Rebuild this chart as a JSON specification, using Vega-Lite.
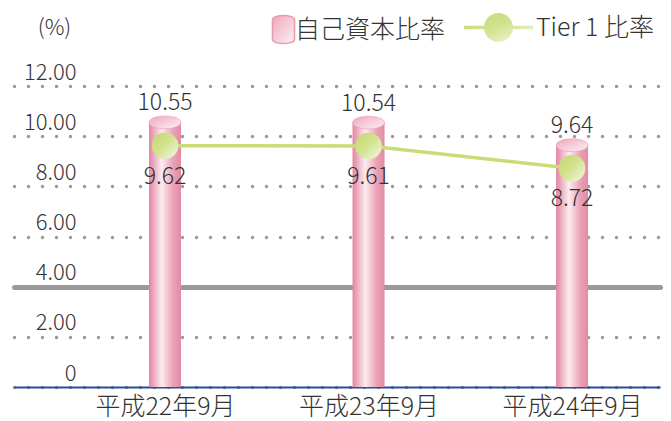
{
  "$schema": "https://vega.github.io/schema/vega-lite/v6.json",
  "autosize": "none",
  "width": 646,
  "height": 301,
  "padding": {"left": 14, "top": 86, "right": 11, "bottom": 34},
  "background": "white",
  "config": {
    "font": "Noto Sans CJK JP",
    "view": {"stroke": null},
    "text": {"font": "Noto Sans CJK JP", "color": "#333333"}
  },
  "data": {
    "values": [
      {"period": "平成22年9月", "capital": 10.55, "tier1": 9.62},
      {"period": "平成23年9月", "capital": 10.54, "tier1": 9.61},
      {"period": "平成24年9月", "capital": 9.64, "tier1": 8.72}
    ]
  },
  "encoding": {
    "x": {
      "field": "period",
      "type": "nominal",
      "sort": null,
      "scale": {"type": "point", "padding": 0.587, "align": 0.632},
      "axis": {
        "title": null,
        "ticks": false,
        "domain": true,
        "domainColor": "#2b4c9b",
        "domainWidth": 2,
        "labelFontSize": 25,
        "labelFontWeight": 300,
        "labelColor": "#333333",
        "labelPadding": 7,
        "labelAngle": 0,
        "grid": false
      }
    }
  },
  "layer": [
    {
      "mark": {
        "type": "bar",
        "size": 32,
        "fill": {
          "gradient": "linear",
          "x1": 0, "y1": 0, "x2": 1, "y2": 0,
          "stops": [
            {"offset": 0, "color": "#e2849f"},
            {"offset": 0.4, "color": "#fcecf1"},
            {"offset": 0.75, "color": "#eaa2b7"},
            {"offset": 1, "color": "#e38aa4"}
          ]
        }
      },
      "encoding": {
        "y": {
          "field": "capital",
          "type": "quantitative",
          "scale": {"domain": [0, 12], "nice": false, "zero": true},
          "axis": {
            "title": "(%)",
            "titleAngle": 0,
            "titleX": 40,
            "titleY": -59,
            "titleAlign": "center",
            "titleBaseline": "middle",
            "titleFontSize": 22,
            "titleFontWeight": 300,
            "titleColor": "#333333",
            "values": [0, 2, 4, 6, 8, 10, 12],
            "labelExpr": "datum.value === 0 ? '0' : format(datum.value, '.2f')",
            "labelFontSize": 22,
            "labelFontWeight": 300,
            "labelColor": "#333333",
            "labelAlign": "right",
            "labelBaseline": "alphabetic",
            "labelPadding": -62,
            "labelOffset": -7,
            "ticks": false,
            "domain": false,
            "grid": true,
            "gridCap": "round",
            "gridColor": "#9a9a9a",
            "gridWidth": {"condition": {"test": "datum.value === 4", "value": 5}, "value": 3.5},
            "gridDash": {"condition": {"test": "datum.value === 4", "value": []}, "value": [0, 14]}
          }
        }
      }
    },
    {
      "mark": {
        "type": "point",
        "filled": true,
        "size": 1024,
        "shape": "M -1 0 A 1 0.4 0 1 1 1 0 A 1 0.4 0 1 1 -1 0 Z",
        "strokeWidth": 0.6,
        "stroke": "#e59bb0",
        "fill": {
          "gradient": "linear",
          "x1": 0, "y1": 0, "x2": 1, "y2": 1,
          "stops": [
            {"offset": 0, "color": "#eea7bb"},
            {"offset": 1, "color": "#fdf1f5"}
          ]
        }
      },
      "encoding": {
        "y": {"field": "capital", "type": "quantitative"},
        "opacity": {
          "datum": "自己資本比率",
          "type": "ordinal",
          "scale": {"range": [1]},
          "legend": {
            "title": null,
            "orient": "none",
            "legendX": 257,
            "legendY": -69,
            "symbolType": "M -1 -0.9 A 1 0.38 0 0 1 1 -0.9 L 1 0.9 A 1 0.38 0 0 1 -1 0.9 Z",
            "symbolSize": 484,
            "labelFontSize": 25,
            "labelFontWeight": 300,
            "labelColor": "#333333",
            "labelOffset": -1,
            "encode": {
              "symbols": {
                "update": {
                  "fill": {"value": {
                    "gradient": "linear",
                    "x1": 0, "y1": 0, "x2": 1, "y2": 0,
                    "stops": [
                      {"offset": 0, "color": "#e2849f"},
                      {"offset": 0.5, "color": "#fbe6ed"},
                      {"offset": 1, "color": "#e690aa"}
                    ]
                  }},
                  "opacity": {"value": 1},
                  "fillOpacity": {"value": 1}
                }
              }
            }
          }
        }
      }
    },
    {
      "mark": {"type": "line", "stroke": "#c8dc78", "strokeWidth": 3.5},
      "encoding": {
        "y": {"field": "tier1", "type": "quantitative"}
      }
    },
    {
      "mark": {
        "type": "point",
        "filled": true,
        "shape": "circle",
        "size": 707,
        "fill": {
          "gradient": "linear",
          "x1": 0, "y1": 0, "x2": 1, "y2": 1,
          "stops": [
            {"offset": 0, "color": "#c3d86a"},
            {"offset": 0.5, "color": "#d3e392"},
            {"offset": 1, "color": "#f6f9e6"}
          ]
        }
      },
      "encoding": {
        "y": {"field": "tier1", "type": "quantitative"},
        "opacity": {
          "datum": "Tier 1 比率",
          "type": "ordinal",
          "scale": {"range": [1]},
          "legend": {
            "title": null,
            "orient": "none",
            "legendX": 449,
            "legendY": -94,
            "symbolType": "M -1 -0.05 L -0.4 -0.05 L -0.4 0.05 L -1 0.05 Z M 0.4 -0.05 L 1 -0.05 L 1 0.05 L 0.4 0.05 Z M 0.42 0 A 0.42 0.42 0 1 1 -0.42 0 A 0.42 0.42 0 1 1 0.42 0 Z",
            "symbolSize": 4761,
            "labelFontSize": 25,
            "labelFontWeight": 300,
            "labelColor": "#333333",
            "labelOffset": 2,
            "encode": {
              "symbols": {
                "update": {
                  "fill": {"value": {
                    "gradient": "linear",
                    "x1": 0, "y1": 0, "x2": 1, "y2": 0,
                    "stops": [
                      {"offset": 0, "color": "#c8dc78"},
                      {"offset": 0.29, "color": "#c8dc78"},
                      {"offset": 0.3, "color": "#c3d86a"},
                      {"offset": 0.5, "color": "#d2e290"},
                      {"offset": 0.7, "color": "#f0f5d8"},
                      {"offset": 0.71, "color": "#c8dc78"},
                      {"offset": 1, "color": "#c8dc78"}
                    ]
                  }},
                  "opacity": {"value": 1},
                  "fillOpacity": {"value": 1}
                }
              }
            }
          }
        }
      }
    },
    {
      "mark": {"type": "text", "fontSize": 23, "fontWeight": 300, "baseline": "alphabetic", "dy": -12, "color": "#333333"},
      "encoding": {
        "y": {"field": "capital", "type": "quantitative"},
        "text": {"field": "capital", "type": "quantitative", "format": ".2f"}
      }
    },
    {
      "mark": {"type": "text", "fontSize": 23, "fontWeight": 300, "baseline": "top", "dy": 20, "color": "#333333"},
      "encoding": {
        "y": {"field": "tier1", "type": "quantitative"},
        "text": {"field": "tier1", "type": "quantitative", "format": ".2f"}
      }
    }
  ],
  "resolve": {"scale": {"opacity": "independent"}, "legend": {"opacity": "independent"}}
}
